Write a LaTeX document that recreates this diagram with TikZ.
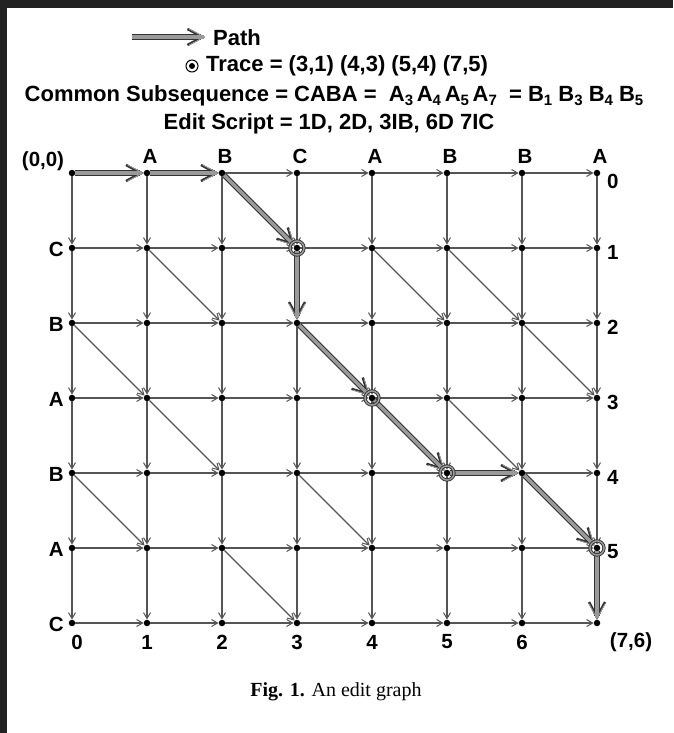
\documentclass[tikz,border=0pt]{standalone}
\usepackage{fontspec}
\setmainfont{Liberation Serif}
\setsansfont{Liberation Sans}
\usetikzlibrary{arrows.meta}
\definecolor{framecol}{HTML}{222222}
\definecolor{edgecol}{HTML}{555555}
\definecolor{pathout}{HTML}{333333}
\definecolor{pathin}{HTML}{9A9A9A}
\newcommand{\ssb}[1]{\raisebox{-0.3ex}{\fontsize{15}{15}\selectfont #1}}
\tikzset{
  dot/.style={circle, fill=black, inner sep=0pt, minimum size=6.5pt},
  gedge/.style={draw=edgecol, line width=1.2pt, -{Straight Barb[length=6pt,width=7pt,line width=1pt]}},
  pathouter/.style={draw=pathout, line width=5.6pt, -{Straight Barb[length=15pt,width=16pt,line width=2.4pt]}},
  pathinner/.style={draw=pathin, line width=3.4pt, -{Straight Barb[length=15pt,width=16pt,line width=0.8pt]}},
  lab/.style={font=\sffamily\bfseries\fontsize{20.5}{20.5}\selectfont, inner sep=0pt},
  head/.style={font=\sffamily\bfseries\fontsize{22}{22}\selectfont, inner sep=0pt},
  tracecirc/.style={circle, draw=pathout, double=pathin, line width=0.9pt, double distance=1.5pt, minimum size=14pt, inner sep=0pt},
}
\begin{document}
\begin{tikzpicture}[x=1pt,y=-1pt]
\useasboundingbox (0,0) rectangle (673,733);
\fill[white] (0,0) rectangle (673,733);
\fill[framecol] (0,0) rectangle (673,8);
\fill[framecol] (0,0) rectangle (7,733);
% grid nodes
\foreach \i in {0,...,7}
  \foreach \j in {0,...,6}
    \node[dot] (n-\i-\j) at ({72+75*\i},{173+75*\j}) {};
% horizontal edges
\foreach \i [count=\p from 0] in {1,...,7}
  \foreach \j in {0,...,6}
    \draw[gedge] (n-\p-\j) -- (n-\i-\j);
% vertical edges
\foreach \i in {0,...,7}
  \foreach \j [count=\q from 0] in {1,...,6}
    \draw[gedge] (n-\i-\q) -- (n-\i-\j);
% diagonal (match) edges
\foreach \a/\b/\c/\d in {2/0/3/1,1/1/2/2,4/1/5/2,5/1/6/2,0/2/1/3,3/2/4/3,6/2/7/3,1/3/2/4,4/3/5/4,5/3/6/4,0/4/1/5,3/4/4/5,6/4/7/5,2/5/3/6}
  \draw[gedge] (n-\a-\b) -- (n-\c-\d);
% path
\foreach \a/\b/\c/\d in {0/0/1/0,1/0/2/0,2/0/3/1,3/1/3/2,3/2/4/3,4/3/5/4,5/4/6/4,6/4/7/5,7/5/7/6}
  {\draw[pathouter] (n-\a-\b) -- (n-\c-\d);
   \draw[pathinner] (n-\a-\b) -- (n-\c-\d);}
% trace circles
\foreach \a/\b [count=\k] in {3/1,4/3,5/4,7/5}
  \node[tracecirc] (t\k) at (n-\a-\b) {};
% labels
\node[lab] (orig) at (43,161) {(0,0)};
\foreach \i/\l in {1/A,2/B,3/C,4/A,5/B,6/B,7/A}
  \node[lab] (top\i) at ({75+75*\i},156) {\l};
\foreach \j/\l in {1/C,2/B,3/A,4/B,5/A,6/C}
  \node[lab, anchor=east] (row\j) at (64,{174.5+75*\j}) {\l};
\node[lab, anchor=west] (r0) at (607,181) {0};
\foreach \j in {1,...,5}
  \node[lab, anchor=west] (r\j) at (607,{177+75*\j}) {\j};
\node[lab] (b0) at (77,642) {0};
\foreach \i in {1,...,6}
  \node[lab] (b\i) at ({72+75*\i},642) {\i};
\node[lab] (end) at (631,642) {(7,6)};
% legend
\coordinate (la) at (132,37);
\coordinate (lb) at (205,37);
\draw[pathouter] (la) -- (lb);
\draw[pathinner] (la) -- (lb);
\node[head, anchor=west] (lpath) at (213,38) {Path};
\node[circle, draw=black, line width=1pt, minimum size=12pt, inner sep=0pt] (lt) at (192,66) {};
\node[circle, fill=black, minimum size=6pt, inner sep=0pt] (ltdot) at (lt) {};
\node[head, anchor=west] (ltrace) at (206,66) {Trace = (3,1) (4,3) (5,4) (7,5)};
\node[head] (lcommon) at (334,96) {Common Subsequence = CABA = \ A\ssb{3}\,A\ssb{4}\,A\ssb{5}\,A\ssb{7} \ = B\ssb{1} B\ssb{3} B\ssb{4} B\ssb{5}};
\node[head] (ledit) at (329,124) {Edit Script = 1D, 2D, 3IB, 6D 7IC};
\node[font=\fontsize{20}{20}\selectfont, inner sep=0pt] (caption) at (336,692) {\textbf{Fig. 1.} An edit graph};
\end{tikzpicture}
\end{document}
